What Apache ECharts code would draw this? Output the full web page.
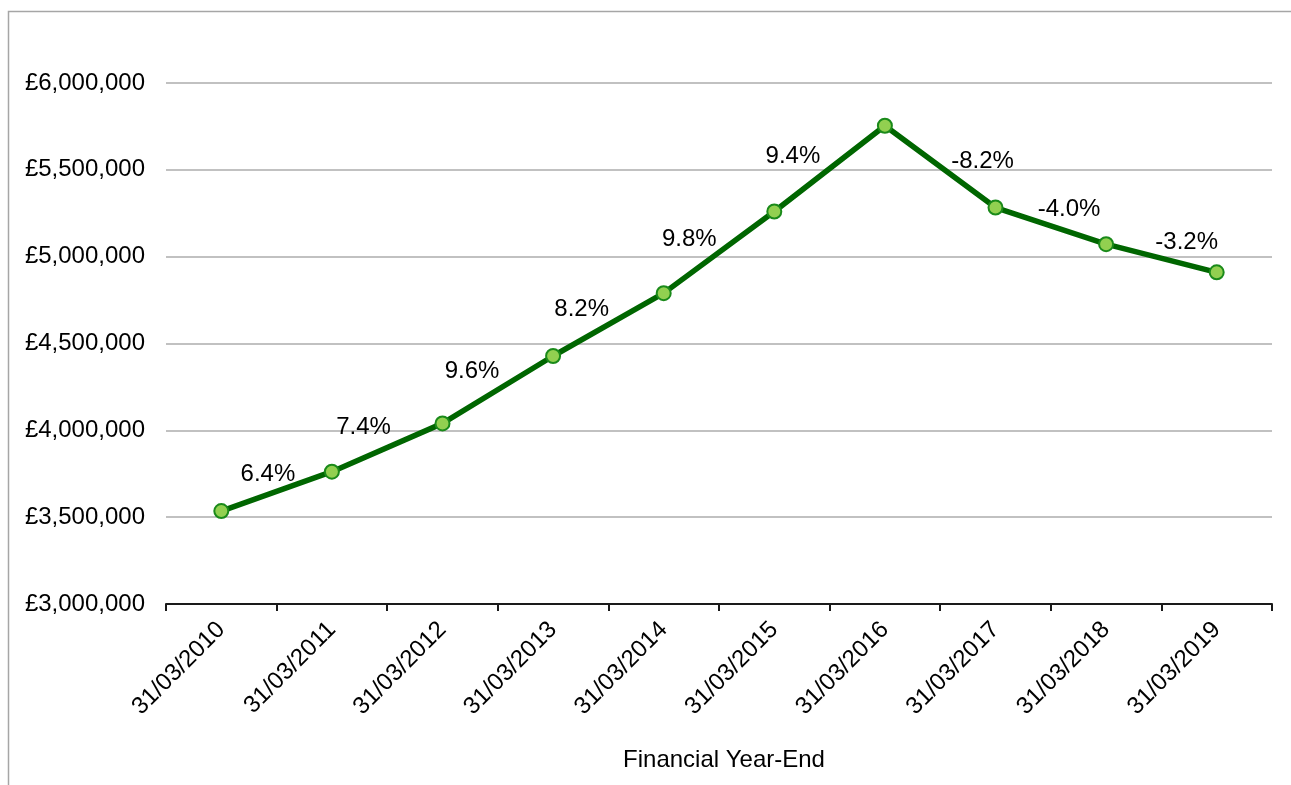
<!DOCTYPE html>
<html>
<head>
<meta charset="utf-8">
<script src="https://cdn.jsdelivr.net/npm/echarts@6/dist/echarts.min.js"></script>
<style>
  html, body { margin: 0; padding: 0; background: #fff; }
  #chart { width: 1291px; height: 785px; }
</style>
</head>
<body>
<div id="chart"></div>
<script>
// Financial year-end dates
const categories = ['31/03/2010', '31/03/2011', '31/03/2012', '31/03/2013', '31/03/2014',
                    '31/03/2015', '31/03/2016', '31/03/2017', '31/03/2018', '31/03/2019'];
// Year-end totals (£)
const values = [3535000, 3762000, 4040000, 4428000, 4790000,
                5260000, 5754000, 5283000, 5072000, 4910000];
// Year-on-year change labels (first year has none)
const growthLabels = ['', '6.4%', '7.4%', '9.6%', '8.2%', '9.8%', '9.4%', '-8.2%', '-4.0%', '-3.2%'];

// Where each change label sits relative to its point (px)
const labelOffsets = [[0, 0], [-64, 3], [-79, 4], [-81, 15], [-82, 16], [-85, 28],
                      [-92, 31], [-13, -46], [-37, -35], [-30, -30]];

const FONT = 'Liberation Sans, Arial, sans-serif';
const chart = echarts.init(document.getElementById('chart'), null, { renderer: 'canvas' });

const seriesData = values.map((v, i) => ({
  value: v,
  label: {
    show: growthLabels[i] !== '',
    position: 'inside',
    offset: labelOffsets[i],
    formatter: () => growthLabels[i],
    color: '#000',
    fontSize: 24,
    fontFamily: FONT
  }
}));

chart.setOption({
  animation: false,
  backgroundColor: '#fff',
  graphic: [{
    type: 'rect',
    shape: { x: 8.5, y: 11.5, width: 1400, height: 900 },
    style: { fill: 'none', stroke: '#A6A6A6', lineWidth: 1.5 },
    silent: true,
    z: -10
  }],
  grid: { left: 166, right: 19, top: 83, bottom: 181 },
  xAxis: {
    type: 'category',
    data: categories,
    boundaryGap: true,
    name: 'Financial Year-End',
    nameLocation: 'middle',
    nameGap: 144,
    nameTextStyle: { color: '#000', fontSize: 24, fontFamily: FONT, padding: [0, 0, 0, 10] },
    axisLine: { lineStyle: { color: '#1a1a1a', width: 2 } },
    axisTick: { show: true, alignWithLabel: false, length: 7, lineStyle: { color: '#1a1a1a', width: 2 } },
    axisLabel: { rotate: 45, margin: 22, color: '#000', fontSize: 24, fontFamily: FONT },
    splitLine: { show: false }
  },
  yAxis: {
    type: 'value',
    min: 3000000,
    max: 6000000,
    interval: 500000,
    axisLine: { show: false },
    axisTick: { show: false },
    axisLabel: {
      margin: 21,
      color: '#000',
      fontSize: 24,
      fontFamily: FONT,
      formatter: v => '£' + v.toLocaleString('en-GB')
    },
    splitLine: { lineStyle: { color: '#ADADAD', width: 1.5 } }
  },
  series: [{
    type: 'line',
    data: seriesData,
    lineStyle: { color: '#006600', width: 5.5 },
    symbol: 'circle',
    symbolSize: 14,
    itemStyle: { color: '#92D050', borderColor: '#1A8A1A', borderWidth: 2 },
    z: 3
  }]
});
</script>
</body>
</html>
